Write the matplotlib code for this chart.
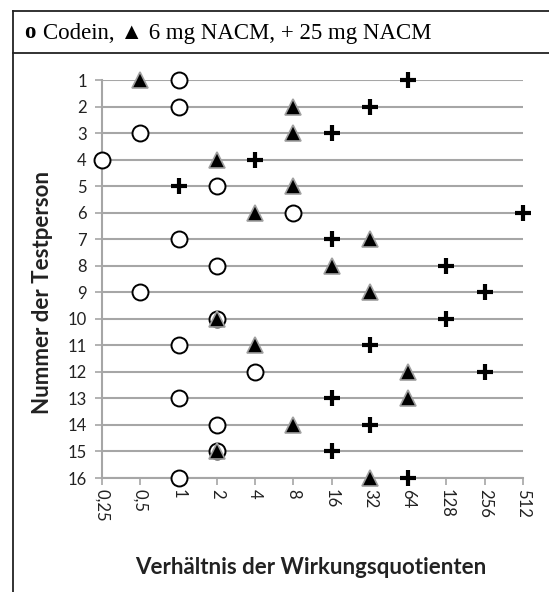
import matplotlib.pyplot as plt
from matplotlib.lines import Line2D

persons = list(range(1, 16 + 1))
codein = [1, 1, 0.5, 0.25, 2, 8, 1, 2, 0.5, 2, 1, 4, 1, 2, 2, 1]
nacm_6 = [0.5, 8, 8, 2, 8, 4, 32, 16, 32, 2, 4, 64, 64, 8, 2, 32]
nacm_25 = [64, 32, 16, 4, 1, 512, 16, 128, 256, 128, 32, 256, 16, 32, 16, 64]
x_ticks = [0.25, 0.5, 1, 2, 4, 8, 16, 32, 64, 128, 256, 512]
x_labels = ["0,25", "0,5", "1", "2", "4", "8", "16", "32", "64", "128", "256", "512"]

plt.rcParams["font.family"] = ["Lato", "DejaVu Sans"]

fig = plt.figure(figsize=(5.49, 5.92), dpi=100)
W, H = 549, 592

# frame around the figure and title box
frame_col = "#222222"
fig.add_artist(Line2D([13 / W, 13 / W], [0, 1 - 11 / H], color=frame_col, lw=1.3))
fig.add_artist(Line2D([13 / W, 1], [1 - 11 / H, 1 - 11 / H], color=frame_col, lw=1.3))
fig.add_artist(Line2D([13 / W, 1], [1 - 53 / H, 1 - 53 / H], color=frame_col, lw=1.3))

fig.text(24 / W, 1 - 33 / H, "o", fontfamily="Liberation Serif", fontweight="bold",
         fontsize=16.5, va="center", ha="left")
fig.text(43 / W, 1 - 33 / H, "Codein, \u25B2 6 mg NACM, + 25 mg NACM",
         fontfamily=["Liberation Serif", "DejaVu Serif"], fontsize=16.5, va="center", ha="left")

ax = fig.add_axes([102 / W, 1 - 478 / H, (523 - 102) / W, (478 - 80) / H])
ax.set_xscale("log", base=2)
ax.set_xlim(0.25, 512)
ax.set_ylim(16, 1)

grid_col = "#a6a6a6"
for p in persons:
    ax.axhline(p, color=grid_col, lw=1.5, zorder=1)

ax.plot(codein, persons, "o", ms=11.5, mfc="white", mec="black", mew=1.4,
        ls="none", clip_on=False, zorder=3)
ax.plot(nacm_6, persons, "^", ms=11, mfc="black", mec="#a0a0a0", mew=1.2,
        ls="none", clip_on=False, zorder=4)
ax.plot(nacm_25, persons, "+", ms=12, mec="black", mew=3,
        ls="none", clip_on=False, zorder=5)

for s in ["top", "right"]:
    ax.spines[s].set_visible(False)
ax.spines["left"].set_color(grid_col)
ax.spines["bottom"].set_color(grid_col)
ax.spines["left"].set_linewidth(1.5)
ax.spines["bottom"].set_linewidth(1.5)

ax.set_yticks(persons)
ax.set_yticklabels([str(p) for p in persons], fontsize=12, color="#222222")
ax.set_xticks(x_ticks)
ax.set_xticklabels(x_labels, rotation=-90, fontsize=12, color="#222222")
ax.minorticks_off()
ax.tick_params(axis="both", color=grid_col, length=5, width=1.2)
ax.tick_params(axis="y", pad=6)
ax.tick_params(axis="x", pad=3)

fig.text(43 / W, 1 - 293 / H, "Nummer der Testperson", fontsize=16, fontweight="bold",
         color="#222222", rotation=90, ha="center", va="center")
fig.text(311 / W, 1 - 568 / H, "Verhältnis der Wirkungsquotienten", fontsize=16,
         fontweight="bold", color="#222222", ha="center", va="center")

fig.savefig("out.png", dpi=100)
